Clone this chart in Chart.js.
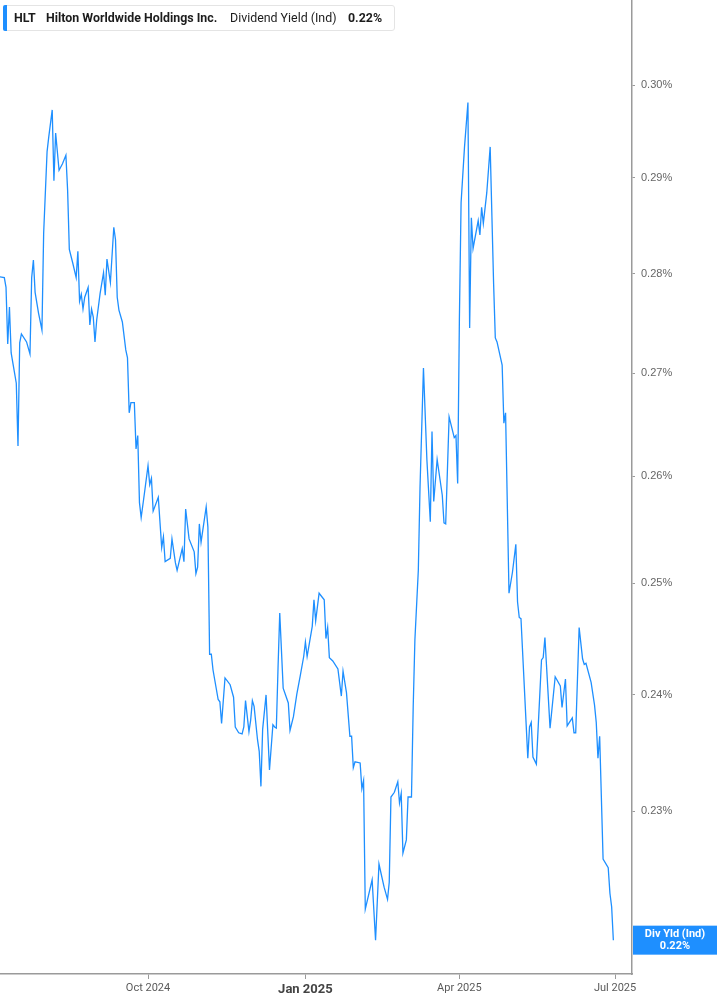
<!DOCTYPE html>
<html>
<head>
<meta charset="utf-8">
<script src="https://cdn.jsdelivr.net/npm/chart.js@4.4.1/dist/chart.umd.min.js"></script>
<style>
html,body{margin:0;padding:0;background:#fff;}
#wrap{position:relative;width:717px;height:1005px;overflow:hidden;}
canvas{display:block;}
#hdr{position:absolute;left:3px;top:5px;width:392px;height:26px;box-sizing:border-box;border:1px solid #e4e4e4;border-radius:3px;background:#fff;font-family:Roboto,"Liberation Sans",sans-serif;font-size:12.4px;color:#1c1c1c;}
#hdr .bar{position:absolute;left:-1px;top:-1px;width:4px;height:26px;background:#1e8fff;border-radius:2px 0 0 2px;}
#hdr .t{position:absolute;top:4px;line-height:16px;white-space:nowrap;}
#hdr .b{font-weight:700;}
</style>
</head>
<body>
<div id="wrap">
<canvas id="c" width="717" height="1005"></canvas>
<div id="hdr">
  <span class="bar"></span>
  <span class="t b" id="hTicker" style="left:10px"></span>
  <span class="t b" id="hName" style="left:42px"></span>
  <span class="t" id="hMetric" style="left:226px"></span>
  <span class="t b" id="hValue" style="left:344px"></span>
</div>
</div>
<script>
// ---- data ----
const ticker = 'HLT';
const companyName = 'Hilton Worldwide Holdings Inc.';
const metricName = 'Dividend Yield (Ind)';
const tagName = 'Div Yld (Ind)';
const baseDate = '2024-07-01'; // day 0
const dayOffsets = [
  5,8,9,10,11,12,15,16,17,18,
  21,23,24,25,26,28,30,31,33,34,
  36,37,38,40,42,44,45,46,48,50,
  51,52,53,54,55,57,58,59,60,61,
  62,64,66,67,68,70,72,73,74,75,
  77,79,80,81,82,84,85,86,87,88,
  90,92,93,94,95,98,100,101,102,105,
  106,108,109,112,113,114,116,119,120,121,
  122,123,126,127,128,129,130,133,134,135,
  137,140,142,143,145,147,148,149,151,152,
  153,154,156,157,158,159,161,163,165,166,
  167,168,169,171,174,175,177,179,181,183,
  184,185,188,189,190,192,195,196,197,198,
  200,203,205,206,208,210,211,212,213,216,
  217,218,219,223,225,227,230,232,233,234,
  236,238,239,240,241,243,244,246,247,248,
  250,251,253,255,257,258,259,261,264,265,
  266,268,271,272,273,274,275,277,279,280,
  281,282,285,286,287,288,290,292,294,295,
  296,299,300,301,303,305,307,308,309,310,
  314,315,316,317,319,322,323,324,327,330,
  333,334,336,337,340,341,342,344,346,347,
  348,351,353,354,355,356,358,361,362,363,364
];
const yieldPct = [
  0.2797,0.2796,0.2786,0.2729,0.2766,0.2720,0.2690,0.2629,0.2730,0.2739,
  0.2731,0.2719,0.2796,0.2814,0.2781,0.2760,0.2743,0.2842,0.2928,0.2944,
  0.2973,0.2897,0.2948,0.2908,0.2915,0.2924,0.2887,0.2825,0.2811,0.2796,
  0.2823,0.2772,0.2779,0.2764,0.2776,0.2786,0.2748,0.2764,0.2756,0.2731,
  0.2753,0.2780,0.2801,0.2778,0.2815,0.2791,0.2848,0.2835,0.2776,0.2763,
  0.2751,0.2723,0.2715,0.2661,0.2671,0.2671,0.2626,0.2639,0.2575,0.2561,
  0.2585,0.2610,0.2592,0.2598,0.2567,0.2580,0.2533,0.2543,0.2520,0.2523,
  0.2541,0.2519,0.2512,0.2532,0.2520,0.2569,0.2541,0.2529,0.2509,0.2515,
  0.2555,0.2538,0.2571,0.2552,0.2436,0.2436,0.2422,0.2396,0.2394,0.2375,
  0.2415,0.2409,0.2398,0.2372,0.2367,0.2366,0.2372,0.2395,0.2368,0.2378,
  0.2395,0.2390,0.2361,0.2351,0.2321,0.2370,0.2400,0.2335,0.2374,0.2372,
  0.2371,0.2424,0.2473,0.2406,0.2393,0.2369,0.2381,0.2401,0.2417,0.2434,
  0.2447,0.2434,0.2461,0.2485,0.2466,0.2491,0.2485,0.2450,0.2460,0.2433,
  0.2430,0.2423,0.2399,0.2421,0.2402,0.2364,0.2364,0.2337,0.2342,0.2341,
  0.2319,0.2326,0.2219,0.2243,0.2194,0.2256,0.2237,0.2227,0.2241,0.2312,
  0.2316,0.2325,0.2307,0.2315,0.2265,0.2276,0.2312,0.2312,0.2389,0.2449,
  0.2512,0.2590,0.2705,0.2616,0.2557,0.2643,0.2576,0.2616,0.2582,0.2556,
  0.2555,0.2657,0.2637,0.2639,0.2593,0.2753,0.2874,0.2933,0.2981,0.2745,
  0.2858,0.2826,0.2855,0.2840,0.2869,0.2852,0.2884,0.2933,0.2790,0.2735,
  0.2731,0.2708,0.2651,0.2661,0.2491,0.2510,0.2536,0.2483,0.2469,0.2468,
  0.2345,0.2372,0.2376,0.2346,0.2340,0.2431,0.2433,0.2451,0.2371,0.2416,
  0.2408,0.2389,0.2414,0.2373,0.2380,0.2367,0.2367,0.2460,0.2432,0.2427,
  0.2428,0.2411,0.2391,0.2376,0.2345,0.2364,0.2260,0.2253,0.2232,0.2221,0.2194
];
const xTickDays = [92, 184, 274, 365];
const xTickLabels = ['Oct 2024', 'Jan 2025', 'Apr 2025', 'Jul 2025'];
const xTickBold = [false, true, false, false];
const yTickValues = [0.23, 0.24, 0.25, 0.26, 0.27, 0.28, 0.29, 0.30];
const xRange = [5.48, 374.9];
const yRange = [0.2167, 0.3095];

// ---- header text ----
const lastVal = yieldPct[yieldPct.length - 1];
document.getElementById('hTicker').textContent = ticker;
document.getElementById('hName').textContent = companyName;
document.getElementById('hMetric').textContent = metricName;
document.getElementById('hValue').textContent = lastVal.toFixed(2) + '%';

const BLUE = '#1e8fff';
const AXIS = '#9a9a9a';

const lastTag = {
  id: 'lastTag',
  afterDraw(chart) {
    const ctx = chart.ctx;
    const ys = chart.scales.y;
    const y = ys.getPixelForValue(lastVal);
    const x0 = chart.chartArea.right + 1;
    const x1 = chart.width;
    ctx.save();
    ctx.fillStyle = BLUE;
    ctx.fillRect(x0, y - 14.5, x1 - x0, 29);
    ctx.fillStyle = '#fff';
    ctx.font = 'bold 11px Roboto, "Liberation Sans", sans-serif';
    ctx.textAlign = 'center';
    ctx.textBaseline = 'middle';
    const cx = (x0 + x1) / 2;
    ctx.fillText(tagName, cx, y - 6);
    ctx.fillText(lastVal.toFixed(2) + '%', cx, y + 6.5);
    ctx.restore();
  }
};

new Chart(document.getElementById('c'), {
  type: 'line',
  data: {
    datasets: [{
      label: metricName,
      data: dayOffsets.map((d, i) => ({ x: d, y: yieldPct[i] })),
      borderColor: BLUE,
      borderWidth: 1.3,
      pointRadius: 0,
      tension: 0,
      fill: false
    }]
  },
  options: {
    responsive: false,
    animation: false,
    layout: { padding: 0 },
    plugins: { legend: { display: false }, tooltip: { enabled: false } },
    scales: {
      x: {
        type: 'linear',
        position: 'bottom',
        min: xRange[0],
        max: xRange[1],
        afterBuildTicks(s) { s.ticks = xTickDays.map(v => ({ value: v })); },
        afterFit(s) { s.height = 31; s.paddingLeft = 0; s.paddingRight = 0; },
        grid: { drawOnChartArea: false, drawTicks: true, tickLength: 5, color: AXIS, lineWidth: 1 },
        border: { color: AXIS, width: 1.5 },
        ticks: {
          autoSkip: false,
          maxRotation: 0,
          padding: 3,
          callback(v) { const i = xTickDays.indexOf(v); return i >= 0 ? xTickLabels[i] : ''; },
          font(ctx) {
            const i = ctx.tick ? xTickDays.indexOf(ctx.tick.value) : -1;
            return (i >= 0 && xTickBold[i])
              ? { family: 'Roboto, "Liberation Sans", sans-serif', size: 13, weight: 'bold' }
              : { family: 'Roboto, "Liberation Sans", sans-serif', size: 11 };
          },
          color(ctx) {
            const i = ctx.tick ? xTickDays.indexOf(ctx.tick.value) : -1;
            return (i >= 0 && xTickBold[i]) ? '#444' : '#5a5a5a';
          }
        }
      },
      y: {
        type: 'logarithmic',
        position: 'right',
        min: yRange[0],
        max: yRange[1],
        afterBuildTicks(s) { s.ticks = yTickValues.map(v => ({ value: v })); },
        afterFit(s) { s.width = 85; s.paddingTop = 0; s.paddingBottom = 0; },
        grid: { drawOnChartArea: false, drawTicks: true, tickLength: 3, color: AXIS },
        border: { color: AXIS, width: 1.5 },
        ticks: {
          padding: 6,
          callback(v) { return Number(v).toFixed(2) + '%'; },
          font: { family: '"Liberation Sans", Arial, sans-serif', size: 11 },
          color: '#666'
        }
      }
    }
  },
  plugins: [lastTag]
});
</script>
</body>
</html>
